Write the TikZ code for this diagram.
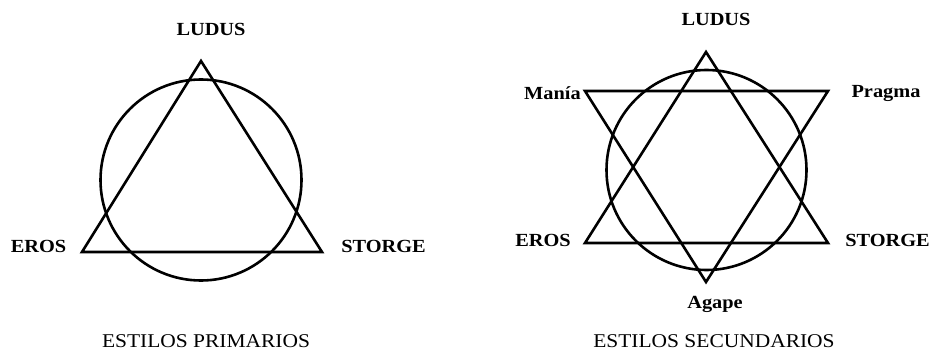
\documentclass[tikz,border=0pt]{standalone}
\usepackage{fontspec}
\setmainfont[FakeStretch=1.1]{Liberation Serif}
\begin{document}
\begin{tikzpicture}[x=1pt,y=-1pt,
  shape line/.style={line width=2.6pt,line join=miter},
  lab/.style={font=\fontsize{18.5}{20}\selectfont\bfseries,inner sep=0pt,anchor=center},
  captiontext/.style={font=\fontsize{19.5}{21}\selectfont,inner sep=0pt,anchor=center}]
\useasboundingbox (0,0) rectangle (932,350);
% ---- left: primary styles
\coordinate (LA) at (201,61);
\coordinate (LB) at (82,252);
\coordinate (LC) at (322,252);
\node[circle,draw,shape line,minimum size=201pt,inner sep=0pt] (lcirc) at (201,180) {};
\draw[shape line] (LA) -- (LB) -- (LC) -- cycle;
\node[lab] (lludus) at (211,29) {LUDUS};
\node[lab] (leros) at (38.5,246) {EROS};
\node[lab] (lstorge) at (383.5,246) {STORGE};
\node[captiontext] (lcap) at (206,341) {ESTILOS PRIMARIOS};
% ---- right: secondary styles
\coordinate (RA) at (706,52);
\coordinate (RB) at (585,243);
\coordinate (RC) at (828,243);
\coordinate (RD) at (585,91);
\coordinate (RE) at (828,91);
\coordinate (RF) at (706,282);
\node[circle,draw,shape line,minimum size=200pt,inner sep=0pt] (rcirc) at (706.5,170) {};
\draw[shape line] (RA) -- (RB) -- (RC) -- cycle;
\draw[shape line] (RD) -- (RE) -- (RF) -- cycle;
\node[lab] (rludus) at (716,19) {LUDUS};
\node[lab] (rmania) at (552.5,93) {Manía};
\node[lab] (rpragma) at (886,93) {Pragma};
\node[lab] (reros) at (543,240) {EROS};
\node[lab] (rstorge) at (887.5,240) {STORGE};
\node[lab] (ragape) at (715,304) {Agape};
\node[captiontext] (rcap) at (714,341) {ESTILOS SECUNDARIOS};
\end{tikzpicture}
\end{document}
